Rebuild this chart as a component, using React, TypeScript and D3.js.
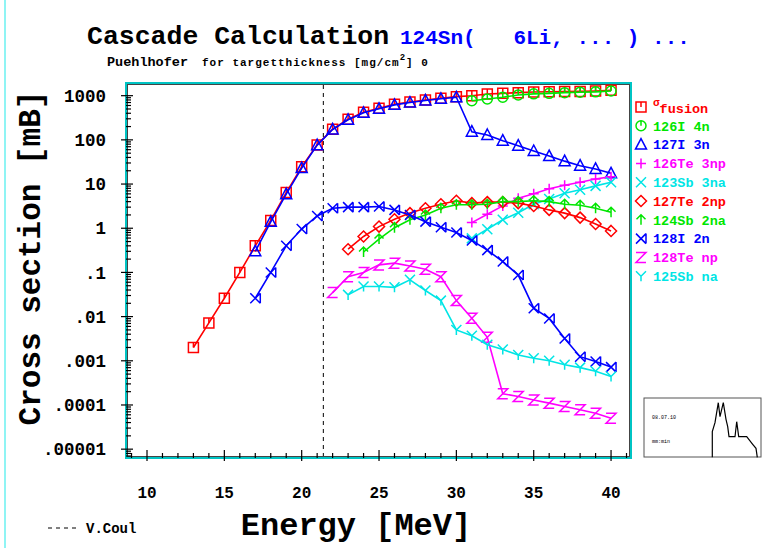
import React, { useEffect, useRef } from 'react';
import * as d3 from 'd3';

// energies in MeV (integer steps as in the calculation grid)
const eFusion = d3.range(13, 41);
const eI127 = d3.range(17, 41);
const eI126 = d3.range(31, 41);
const eTe126 = d3.range(31, 41);
const eSb123 = d3.range(31, 41);
const eTe127 = d3.range(23, 41);
const eSb124 = d3.range(24, 41);
const eI128 = d3.range(17, 41);
const eTe128 = d3.range(22, 41);
const eSb125 = d3.range(23, 41);

// cross sections [mB]
const sigmaFusion = [0.002, 0.0072, 0.026, 0.1, 0.4, 1.5, 6.4, 24.5, 77, 174, 292, 421, 519, 638, 720, 800, 872, 950, 1000, 1090, 1130, 1170, 1210, 1230, 1240, 1250, 1280, 1320];
const i127_3n = [0.3, 1.4, 5.9, 23, 76, 172, 285, 410, 505, 620, 700, 780, 850, 920, 153, 129, 96, 74, 56, 43, 33, 26, 22, 17.5];
const i126_4n = [770, 840, 920, 1040, 1100, 1130, 1170, 1200, 1220, 1280];
const te126_3np = [1.34, 2.07, 3.2, 4.8, 6.0, 7.8, 9.4, 11, 13, 14.7];
const sb123_3na = [0.59, 0.95, 1.55, 2.25, 3.5, 4.6, 6.2, 7.4, 9.1, 11];
const te127_2np = [0.335, 0.65, 1.09, 1.59, 2.2, 2.84, 3.5, 4.2, 3.7, 3.9, 3.9, 3.7, 3.2, 2.6, 2.2, 1.74, 1.25, 0.87];
const sb124_2na = [0.29, 0.57, 1.03, 1.55, 2.0, 2.84, 3.4, 3.4, 3.5, 4.0, 4.0, 4.2, 4.0, 3.5, 3.3, 2.84, 2.3];
const i128_2n = [0.026, 0.1, 0.4, 0.96, 1.9, 2.84, 3.0, 3.0, 3.1, 2.6, 2.0, 1.41, 1.05, 0.8, 0.53, 0.32, 0.176, 0.087, 0.0155, 0.0091, 0.0032, 0.00124, 0.00096, 0.00072];
const te128_np = [0.035, 0.08, 0.1, 0.148, 0.162, 0.14, 0.118, 0.08, 0.023, 0.0092, 0.0034, 0.00018, 0.000155, 0.00013, 0.00011, 0.000092, 0.000078, 0.000065, 0.00005];
const sb125_na = [0.031, 0.048, 0.048, 0.046, 0.068, 0.039, 0.023, 0.005, 0.0037, 0.0023, 0.0018, 0.00135, 0.00114, 0.001, 0.00081, 0.0007, 0.00058, 0.00044];

const seriesNames = ['fusion', '126I 4n', '127I 3n', '126Te 3np', '123Sb 3na', '127Te 2np', '124Sb 2na', '128I 2n', '128Te np', '125Sb na'];

const yTickValues = [1000, 100, 10, 1, 0.1, 0.01, 0.001, 0.0001, 0.00001];
const yTickLabels = ['1000', '100', '10', '1', '.1', '.01', '.001', '.0001', '.00001'];
const xTickValues = [10, 15, 20, 25, 30, 35, 40];
const vCoul = 21.4;

const RED = '#ff0000';
const GREEN = '#00e600';
const BLUE = '#0000ff';
const MAGENTA = '#ff00ff';
const CYAN = '#00e5e5';

const markerPaths: Record<string, string> = {
  square: 'M-5,-5H5V5H-5Z M0,-5V0',
  circle: 'M5,0A5,5 0 1,1 -5,0A5,5 0 1,1 5,0 M0,-5V0',
  triangle: 'M0,-6L5.5,4.5H-5.5Z',
  plus: 'M-5,0H5M0,-5V5',
  cross: 'M-5,-5L5,5M-5,5L5,-5',
  diamond: 'M0,-5.5L5.5,0L0,5.5L-5.5,0Z',
  arrow: 'M0,5V-5M-4.5,-0.5L0,-5L4.5,-0.5',
  crossbar: 'M-5,-5L5,5M-5,5L5,-5M5,-5V5',
  zed: 'M-5,-5H5L-5,5H5',
  why: 'M-5,-5L0,0L5,-5M0,0V5',
};

const series = [
  { name: seriesNames[0], e: eFusion, v: sigmaFusion, color: RED, marker: 'square' },
  { name: seriesNames[1], e: eI126, v: i126_4n, color: GREEN, marker: 'circle' },
  { name: seriesNames[2], e: eI127, v: i127_3n, color: BLUE, marker: 'triangle' },
  { name: seriesNames[3], e: eTe126, v: te126_3np, color: MAGENTA, marker: 'plus' },
  { name: seriesNames[4], e: eSb123, v: sb123_3na, color: CYAN, marker: 'cross' },
  { name: seriesNames[5], e: eTe127, v: te127_2np, color: RED, marker: 'diamond' },
  { name: seriesNames[6], e: eSb124, v: sb124_2na, color: GREEN, marker: 'arrow' },
  { name: seriesNames[7], e: eI128, v: i128_2n, color: BLUE, marker: 'crossbar' },
  { name: seriesNames[8], e: eTe128, v: te128_np, color: MAGENTA, marker: 'zed' },
  { name: seriesNames[9], e: eSb125, v: sb125_na, color: CYAN, marker: 'why' },
];

const MONO = '"Liberation Mono", "DejaVu Sans Mono", monospace';

export default function App() {
  const svgRef = useRef<SVGSVGElement>(null);
  const width = 768;
  const height = 548;

  useEffect(() => {
    const svg = d3.select(svgRef.current);
    svg.selectAll('*').remove();

    const frame = { left: 126, right: 631, top: 83, bottom: 458 };

    const xScale = d3.scaleLinear().domain([8.642, 41.29]).range([frame.left, frame.right]);
    const yScale = d3
      .scaleLog()
      .domain([Math.pow(10, -5.2), Math.pow(10, 3.287)])
      .range([frame.bottom, frame.top]);

    svg.append('rect').attr('width', width).attr('height', height).style('fill', '#fff');

    // light page border on the left
    svg.append('line')
      .attr('x1', 5).attr('x2', 5).attr('y1', 0).attr('y2', height)
      .style('stroke', '#8ff4f4').style('stroke-width', 2);

    // Title
    svg.append('text')
      .attr('x', 87)
      .attr('y', 44)
      .style('font-family', MONO)
      .style('font-weight', 'bold')
      .style('font-size', '26.5px')
      .style('fill', '#000')
      .text('Cascade Calculation');
    svg.append('text')
      .attr('x', 400)
      .attr('y', 44)
      .attr('xml:space', 'preserve')
      .style('font-family', MONO)
      .style('font-weight', 'bold')
      .style('font-size', '21px')
      .style('fill', BLUE)
      .text('124Sn(   6Li, ... ) ...');

    svg.append('text')
      .attr('x', 107).attr('y', 66)
      .style('font-family', MONO).style('font-weight', 'bold').style('font-size', '13.5px')
      .text('Puehlhofer');
    const sub = svg.append('text')
      .attr('x', 202).attr('y', 66)
      .attr('xml:space', 'preserve')
      .style('font-family', MONO).style('font-weight', 'bold').style('font-size', '11px')
      .style('letter-spacing', '1px');
    sub.append('tspan').text('for targetthickness [mg/cm');
    sub.append('tspan').attr('dy', -6).style('font-size', '9px').text('2');
    sub.append('tspan').attr('dy', 6).text('] 0');

    const g = svg.append('g');

    // frame
    g.append('rect')
      .attr('x', frame.left).attr('y', frame.top)
      .attr('width', frame.right - frame.left).attr('height', frame.bottom - frame.top)
      .style('fill', 'none').style('stroke', '#00c4c4').style('stroke-width', 2);
    g.append('rect')
      .attr('x', frame.left + 1.5).attr('y', frame.top + 1.5)
      .attr('width', frame.right - frame.left - 3).attr('height', frame.bottom - frame.top - 3)
      .style('fill', 'none').style('stroke', '#444').style('stroke-width', 1);

    // y ticks (log)
    const yMinor: number[] = [];
    for (let k = -6; k <= 3; k++) {
      for (let m = 1; m <= 9; m++) {
        const v = m * Math.pow(10, k);
        if (v >= yScale.domain()[0] && v <= yScale.domain()[1]) yMinor.push(v);
      }
    }
    const isDecade = (d: number) => Math.abs(Math.log10(d) - Math.round(Math.log10(d))) < 1e-6;
    g.selectAll('.ytick')
      .data(yMinor)
      .enter()
      .append('line')
      .attr('x1', (d) => (isDecade(d) ? frame.left - 5 : frame.left))
      .attr('x2', (d) => (isDecade(d) ? frame.left + 7 : frame.left + 5))
      .attr('y1', (d) => yScale(d))
      .attr('y2', (d) => yScale(d))
      .style('stroke', '#000')
      .style('stroke-width', 1.2);

    g.selectAll('.ylabel')
      .data(yTickValues)
      .enter()
      .append('text')
      .attr('x', 106)
      .attr('y', (d) => yScale(d))
      .attr('dy', '0.35em')
      .attr('text-anchor', 'end')
      .style('font-family', MONO)
      .style('font-weight', 'bold')
      .style('font-size', '17.5px')
      .text((d, i) => yTickLabels[i]);

    // x ticks
    const xMinor = d3.range(9, 42);
    g.selectAll('.xtick')
      .data(xMinor)
      .enter()
      .append('line')
      .attr('x1', (d) => xScale(d))
      .attr('x2', (d) => xScale(d))
      .attr('y1', (d) => (d % 5 === 0 ? frame.bottom + 3 : frame.bottom))
      .attr('y2', (d) => (d % 5 === 0 ? frame.bottom - 8 : frame.bottom - 5))
      .style('stroke', '#000')
      .style('stroke-width', 1.2);

    g.selectAll('.xlabel')
      .data(xTickValues)
      .enter()
      .append('text')
      .attr('x', (d) => xScale(d))
      .attr('y', 498)
      .attr('text-anchor', 'middle')
      .style('font-family', MONO)
      .style('font-weight', 'bold')
      .style('font-size', '16px')
      .text((d) => String(d));

    // axis titles
    svg.append('text')
      .attr('x', 356).attr('y', 535)
      .attr('text-anchor', 'middle')
      .style('font-family', MONO).style('font-weight', 'bold').style('font-size', '32px')
      .text('Energy [MeV]');
    svg.append('text')
      .attr('transform', 'translate(40,258) rotate(-90)')
      .attr('text-anchor', 'middle')
      .style('font-family', MONO).style('font-weight', 'bold').style('font-size', '31px')
      .text('Cross section [mB]');

    // V.Coul line
    g.append('line')
      .attr('x1', xScale(vCoul)).attr('x2', xScale(vCoul))
      .attr('y1', frame.top + 2).attr('y2', frame.bottom - 2)
      .style('stroke', '#000').style('stroke-width', 1).style('stroke-dasharray', '4,4');
    svg.append('line')
      .attr('x1', 48).attr('x2', 80).attr('y1', 528).attr('y2', 528)
      .style('stroke', '#000').style('stroke-width', 1).style('stroke-dasharray', '4,4');
    svg.append('text')
      .attr('x', 86).attr('y', 533)
      .style('font-family', MONO).style('font-weight', 'bold').style('font-size', '14px')
      .text('V.Coul');

    // series
    const line = d3
      .line<[number, number]>()
      .x((d) => xScale(d[0]))
      .y((d) => yScale(d[1]));

    series.forEach((s) => {
      const pts: [number, number][] = s.e.map((e, i) => [e, s.v[i]]);
      g.append('path')
        .datum(pts)
        .attr('d', line)
        .style('fill', 'none')
        .style('stroke', s.color)
        .style('stroke-width', 1.6);
      g.selectAll(null)
        .data(pts)
        .enter()
        .append('path')
        .attr('transform', (d) => `translate(${xScale(d[0])},${yScale(d[1])})`)
        .attr('d', markerPaths[s.marker])
        .style('fill', 'none')
        .style('stroke', s.color)
        .style('stroke-width', 1.5);
    });

    // Legend
    const legend = svg.append('g').attr('transform', 'translate(641, 107)');
    series.forEach((s, i) => {
      const item = legend.append('g').attr('transform', `translate(0, ${i * 18.8})`);
      item.append('path')
        .attr('d', markerPaths[s.marker])
        .style('fill', 'none')
        .style('stroke', s.color)
        .style('stroke-width', 1.5);
      const t = item.append('text')
        .attr('x', 12)
        .attr('y', 0)
        .attr('dy', '0.35em')
        .style('font-family', MONO)
        .style('font-weight', 'bold')
        .style('font-size', '13.5px')
        .style('fill', s.color);
      if (i === 0) {
        t.append('tspan').attr('dy', '-0.05em').style('font-size', '11px').text('\u03c3');
        t.append('tspan').attr('dy', '0.45em').text(s.name);
      } else {
        t.attr('xml:space', 'preserve').text(s.name);
      }
    });

    // small logo box at bottom right
    const inset = svg.append('g').attr('transform', 'translate(644, 398)');
    inset.append('rect')
      .attr('width', 117).attr('height', 59)
      .style('fill', '#fff').style('stroke', '#555').style('stroke-width', 1);
    inset.append('text').attr('x', 8).attr('y', 21)
      .style('font-family', MONO).style('font-size', '5px').text('08.07.10');
    inset.append('text').attr('x', 8).attr('y', 45)
      .style('font-family', MONO).style('font-size', '5px').text('mm:min');
    inset.append('path')
      .attr('d', 'M68.3,59.3L68.3,33.7L71,24.7L74.3,4.7L76,18.7L79.3,4.7L82,21.3L83.7,28.7L85,38.7L91,38.7L92.7,23.7L94.7,38.7L102.7,38.7L108.7,46.3L112,50.3L113.3,59.3')
      .style('fill', 'none').style('stroke', '#000').style('stroke-width', 1.2);
  }, []);

  return (
    <div>
      <style>{'body{margin:0}'}</style>
      <svg ref={svgRef} width={width} height={height} />
    </div>
  );
}
